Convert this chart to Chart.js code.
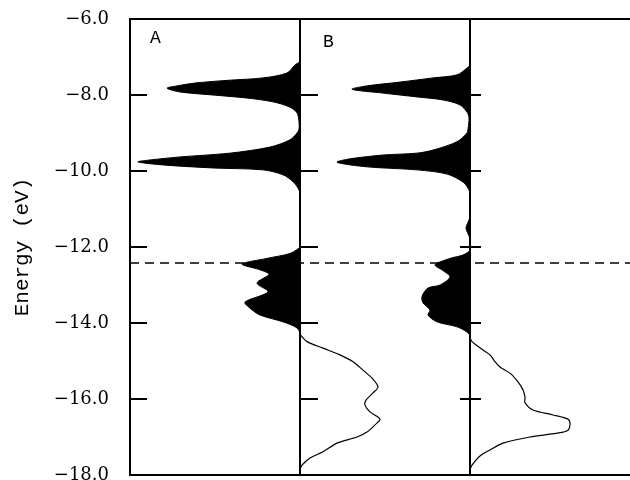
<!DOCTYPE html>
<html>
<head>
<meta charset="utf-8">
<script src="https://cdn.jsdelivr.net/npm/chart.js@4"></script>
<style>
  html, body { margin: 0; padding: 0; background: #fff; }
  #wrap { width: 630px; height: 480px; }
</style>
</head>
<body>
<div id="wrap"><canvas id="myChart"></canvas></div>
<script>
// energy axis
var yTicks = [-18, -16, -14, -12, -10, -8, -6];
var fermiLevel = -12.42;

// panel A, filled DOS (drawn to the left of the divider)
var fillA_E = [-6.0, -7.1, -7.21, -7.42, -7.55, -7.61, -7.68, -7.76, -7.82, -7.92, -8.0, -8.08, -8.18, -8.32, -8.47, -8.7,
               -8.9, -9.0, -9.18, -9.37, -9.53, -9.63, -9.71, -9.76, -9.84, -9.92, -9.97, -10.1, -10.28, -10.45, -10.6,
               -12.0, -12.03, -12.17, -12.3, -12.45, -12.6, -12.72, -12.95, -13.18, -13.45, -13.61, -13.79, -13.97, -14.13, -14.3, -18.0];
var fillA_W = [0, 0, 5, 13, 37, 70, 103, 123, 133, 120, 87, 53, 27, 10, 3, 1,
               1, 3, 10, 30, 70, 120, 150, 162, 137, 87, 37, 17, 7, 2, 0,
               0, 1, 10, 33, 58, 40, 31, 43, 32, 55, 50, 40, 17, 3, 0, 0];

// panel A, outline DOS (drawn to the right of the divider)
var lineA_E = [-14.3, -14.49, -14.66, -14.84, -15.02, -15.24, -15.45, -15.68, -15.84, -16.03, -16.16, -16.34, -16.53,
               -16.68, -16.87, -17.0, -17.16, -17.39, -17.55, -17.74, -17.85];
var lineA_W = [0, 7, 23, 40, 53, 63, 72, 78, 73, 66, 65, 70, 80,
               75, 67, 57, 37, 23, 10, 2, 0];

// panel B, filled DOS
var fillB_E = [-6.0, -7.2, -7.29, -7.47, -7.55, -7.66, -7.76, -7.85, -7.95, -8.05, -8.13, -8.26, -8.45, -8.6,
               -8.9, -9.0, -9.23, -9.45, -9.53, -9.58, -9.68, -9.77, -9.89, -9.97, -10.08, -10.29, -10.45, -10.6,
               -11.2, -11.35, -11.5, -11.65, -11.78,
               -12.08, -12.21, -12.3, -12.47, -12.62, -12.79, -13.0, -13.08, -13.3, -13.47, -13.66, -13.79, -13.97, -14.1, -14.24, -14.35, -18.0];
var fillB_W = [0, 0, 3, 13, 37, 70, 103, 118, 87, 53, 27, 10, 3, 1,
               2, 3, 13, 37, 53, 87, 120, 133, 103, 53, 23, 7, 2, 0,
               0, 2, 4, 2, 0,
               0, 7, 20, 35, 27, 20, 30, 42, 48, 47, 40, 42, 33, 13, 3, 0, 0];

// panel B, outline DOS
var lineB_E = [-14.4, -14.49, -14.71, -14.84, -15.02, -15.16, -15.32, -15.55, -15.76, -15.95, -16.1, -16.29, -16.42,
               -16.53, -16.64, -16.82, -16.9, -17.0, -17.16, -17.34, -17.5, -17.74, -17.85];
var lineB_W = [0, 2, 13, 20, 25, 30, 40, 48, 53, 55, 55, 63, 83,
               98, 100, 98, 87, 60, 33, 20, 10, 2, 0];

// where each panel's zero line sits, in DOS units from the left edge (500 units wide)
var spanX = 500, baseA = 170, baseB = 340;

var serifFont = '"DejaVu Serif", "Liberation Serif", serif';
var monoFont = '"Liberation Mono", "DejaVu Sans Mono", "Courier New", monospace';

function pts(E, W) {
  return E.map(function (e, i) { return { x: W[i], y: e }; });
}

var frame = {
  id: 'frame',
  afterDatasetsDraw: function (chart) {
    var ctx = chart.ctx, a = chart.chartArea, s = chart.scales;
    var xa = s.xA.getPixelForValue(0), xb = s.xB.getPixelForValue(0);
    ctx.save();
    ctx.strokeStyle = '#000';
    ctx.lineWidth = 2;
    ctx.beginPath();
    ctx.moveTo(a.left, a.top); ctx.lineTo(a.right, a.top);
    ctx.moveTo(a.left, a.bottom); ctx.lineTo(a.right, a.bottom);
    yTicks.forEach(function (v) {
      if (v === -6 || v === -18) return;
      var p = s.y.getPixelForValue(v);
      ctx.moveTo(a.left, p); ctx.lineTo(a.left + 17, p);
      ctx.moveTo(xa, p); ctx.lineTo(xa + 18, p);
      ctx.moveTo(xb - 10, p); ctx.lineTo(xb + 11, p);
    });
    ctx.stroke();
    ctx.fillStyle = '#000';
    ctx.font = '18px ' + monoFont;
    ctx.fillText('A', a.left + 20, a.top + 24);
    ctx.fillText('B', xa + 23, a.top + 28);
    ctx.restore();
  }
};

var ctx = document.getElementById('myChart');
var myChart = new Chart(ctx, {
  type: 'line',
  data: {
    datasets: [
      { data: pts(fillA_E, fillA_W), xAxisID: 'xA', fill: 'origin', backgroundColor: '#000', borderColor: '#000', borderWidth: 1 },
      { data: pts(fillB_E, fillB_W), xAxisID: 'xB', fill: 'origin', backgroundColor: '#000', borderColor: '#000', borderWidth: 1 },
      { data: pts(lineA_E, lineA_W), xAxisID: 'xAL', fill: false, borderColor: '#000', borderWidth: 1.2 },
      { data: pts(lineB_E, lineB_W), xAxisID: 'xBL', fill: false, borderColor: '#000', borderWidth: 1.2 },
      { data: pts([-6, -18], [0, 0]), xAxisID: 'xA', fill: false, borderColor: '#000', borderWidth: 2, tension: 0 },
      { data: pts([-6, -18], [0, 0]), xAxisID: 'xB', fill: false, borderColor: '#000', borderWidth: 2, tension: 0 },
      { data: pts([fermiLevel, fermiLevel], [0, spanX]), xAxisID: 'x', fill: false, borderColor: '#000',
        borderWidth: 1.4, borderDash: [9, 6], tension: 0 }
    ]
  },
  options: {
    indexAxis: 'y',
    responsive: true,
    maintainAspectRatio: false,
    animation: false,
    devicePixelRatio: 1,
    layout: { padding: { top: 19, right: 0, bottom: 5, left: 0 } },
    elements: {
      point: { radius: 0, hoverRadius: 0 },
      line: { tension: 0.3 }
    },
    plugins: { legend: { display: false }, tooltip: { enabled: false } },
    scales: {
      y: {
        type: 'linear', axis: 'y', position: 'left', min: -18, max: -6,
        afterBuildTicks: function (s) { s.ticks = yTicks.map(function (v) { return { value: v }; }); },
        ticks: {
          padding: 13, color: '#000',
          font: { family: serifFont, size: 18 },
          callback: function (v) { return (v < 0 ? '\u2212' : '') + Math.abs(v).toFixed(1); }
        },
        grid: { display: false },
        border: { display: true, color: '#000', width: 2 },
        title: { display: true, text: 'Energy (eV)', color: '#000',
                 font: { family: monoFont, size: 21 }, padding: { top: 10, bottom: 0 } },
        afterFit: function (s) { s.width = 130; s.paddingTop = 0; s.paddingBottom = 0; }
      },
      x:   { type: 'linear', axis: 'x', display: false, min: 0, max: spanX },
      xA:  { type: 'linear', axis: 'x', display: false, reverse: true, min: baseA - spanX, max: baseA },
      xAL: { type: 'linear', axis: 'x', display: false, min: -baseA, max: spanX - baseA },
      xB:  { type: 'linear', axis: 'x', display: false, reverse: true, min: baseB - spanX, max: baseB },
      xBL: { type: 'linear', axis: 'x', display: false, min: -baseB, max: spanX - baseB }
    }
  },
  plugins: [frame]
});
</script>
</body>
</html>
